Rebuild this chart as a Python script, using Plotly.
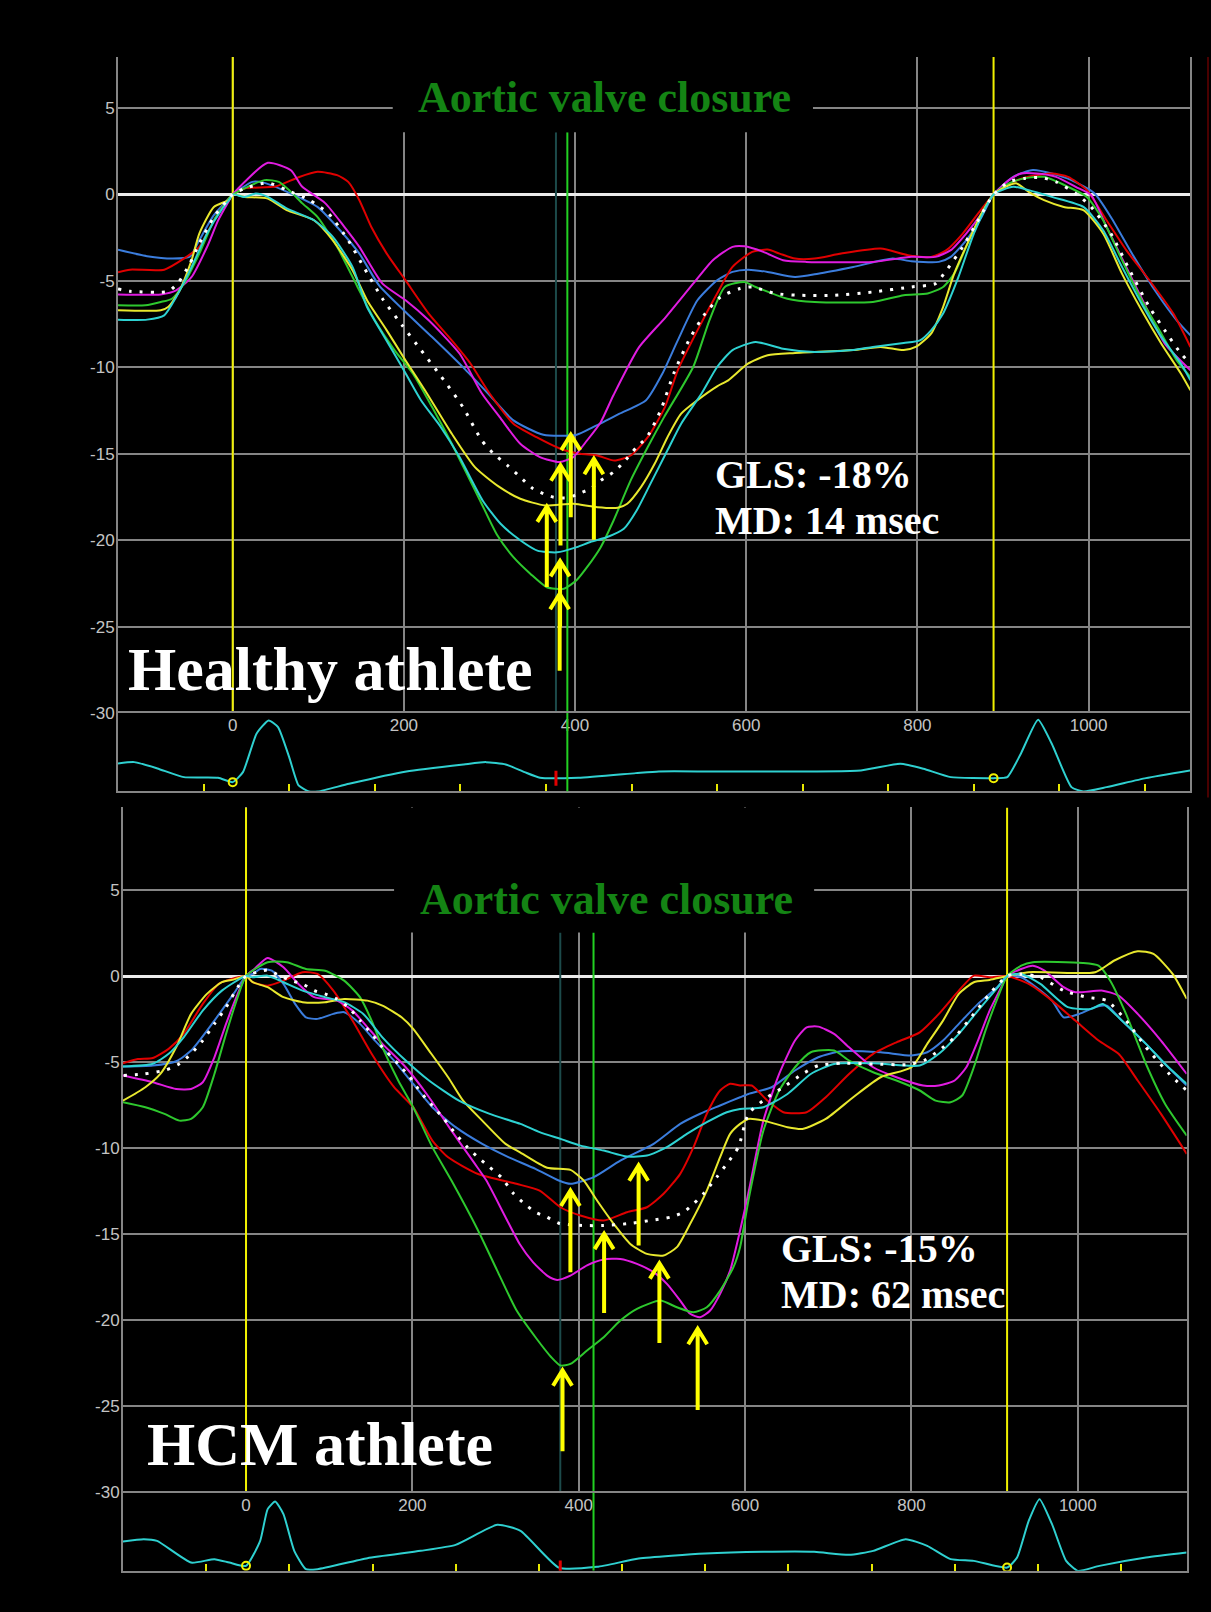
import numpy as np
import plotly.graph_objects as go

W, H = 1211, 1612
VSCALE = 1.0068   # small vertical correction of the pixel layout

# ======================= DATA : Healthy athlete (top) =======================
top_blue_t = [-134, -100, -70, -50, -39, -22, -4, 0, 23, 37, 68, 99, 122, 148, 171, 202, 233, 269, 300, 328, 363, 402, 421, 452, 483, 502, 520, 543, 566, 584, 602, 625, 657, 684, 725, 771, 793, 825, 839, 857, 875, 889, 912, 935, 957, 980, 1007, 1026, 1053, 1080, 1103, 1119]
top_blue_v = [-3.2, -3.57, -3.71, -3.6, -2.64, -1.2, -0.2, 0, 0.73, 0.67, 0.05, -0.72, -1.88, -3.42, -5.26, -6.8, -8.25, -9.99, -11.6, -13.07, -13.9, -13.9, -13.46, -12.68, -11.9, -10.37, -8.44, -6.12, -4.96, -4.48, -4.35, -4.48, -4.77, -4.58, -4.19, -3.71, -3.86, -3.9, -3.61, -2.65, -1.3, 0, 1.02, 1.41, 1.21, 0.83, 0.06, -1.3, -3.61, -5.73, -7.28, -8.15]

top_red_t = [-134, -120, -80, -57, -39, -22, -4, 0, 14, 50, 77, 99, 122, 135, 148, 162, 180, 202, 229, 256, 278, 300, 328, 355, 383, 406, 426, 446, 465, 485, 505, 520, 543, 566, 584, 607, 625, 639, 657, 680, 711, 757, 789, 816, 834, 853, 871, 889, 912, 930, 957, 976, 998, 1021, 1044, 1071, 1099, 1119]
top_red_v = [-4.5, -4.35, -4.35, -3.71, -3.04, -1.5, -0.2, 0, 0.35, 0.46, 1.0, 1.31, 1.12, 0.73, -0.33, -1.88, -3.42, -4.97, -6.89, -8.44, -9.79, -11.5, -13.26, -14.04, -14.71, -15.0, -15.1, -15.39, -15.1, -14.04, -12.3, -10.17, -7.86, -5.73, -4.19, -3.32, -3.19, -3.42, -3.71, -3.71, -3.42, -3.13, -3.51, -3.61, -3.22, -2.26, -1.1, 0, 0.73, 1.02, 1.21, 1.02, 0.25, -1.49, -3.22, -4.96, -6.89, -8.82]

top_magenta_t = [-134, -84, -66, -48, -30, -17, -4, 0, 41, 68, 81, 108, 130, 148, 175, 202, 229, 265, 291, 312, 336, 359, 382, 398, 414, 430, 445, 475, 506, 538, 561, 584, 598, 620, 643, 670, 748, 793, 821, 839, 857, 875, 889, 907, 921, 939, 962, 985, 1003, 1021, 1044, 1067, 1089, 1119]
top_magenta_v = [-5.78, -5.78, -5.55, -4.77, -3.04, -1.5, -0.33, 0, 1.83, 1.40, 0.46, -0.5, -1.84, -3.03, -5.16, -6.12, -7.28, -9.2, -11.5, -12.88, -14.42, -15.19, -15.48, -15.19, -14.23, -13.17, -11.6, -8.82, -7.09, -5.16, -3.8, -3.03, -3.0, -3.32, -3.8, -3.9, -3.9, -3.61, -3.61, -3.22, -2.26, -1.1, 0, 0.83, 1.21, 1.21, 1.02, 0.44, -0.04, -1.87, -4.19, -6.51, -8.63, -10.17]

top_green_t = [-134, -102, -84, -71, -57, -39, -22, -4, 0, 37, 54, 68, 81, 99, 122, 144, 166, 189, 211, 233, 256, 289, 309, 328, 348, 367, 387, 402, 414, 430, 445, 465, 485, 504, 538, 557, 575, 598, 611, 648, 680, 748, 784, 812, 830, 843, 857, 875, 889, 907, 925, 948, 976, 998, 1017, 1039, 1062, 1085, 1103, 1119]
top_green_v = [-6.41, -6.41, -6.22, -6.03, -5.16, -3.42, -1.5, -0.2, 0, 0.83, 0.73, 0.15, -0.5, -1.3, -3.03, -5.16, -7.28, -9.0, -10.4, -12.3, -14.42, -17.7, -19.7, -20.98, -21.95, -22.72, -22.81, -22.3, -21.56, -20.4, -18.86, -16.54, -14.61, -12.88, -9.98, -7.28, -5.35, -5.06, -5.35, -6.03, -6.22, -6.22, -5.83, -5.73, -5.35, -4.58, -3.03, -1.1, 0, 0.64, 0.93, 1.02, 0.44, -0.14, -1.49, -3.8, -6.12, -8.05, -9.6, -10.56]

top_yellow_t = [-134, -84, -75, -62, -48, -39, -22, -4, 0, 14, 41, 63, 95, 117, 140, 157, 180, 202, 225, 256, 283, 311, 336, 365, 398, 426, 450, 461, 477, 493, 508, 524, 543, 566, 579, 602, 625, 657, 725, 757, 784, 798, 816, 830, 843, 862, 875, 889, 903, 916, 930, 948, 971, 994, 1017, 1039, 1062, 1085, 1108, 1119]
top_yellow_v = [-6.7, -6.7, -6.5, -5.55, -3.8, -2.26, -0.72, -0.3, 0, -0.14, -0.24, -0.9, -1.49, -2.65, -4.38, -6.12, -7.86, -9.6, -11.35, -13.84, -15.77, -16.9, -17.6, -17.99, -17.89, -18.09, -18.12, -17.89, -16.93, -15.58, -14.04, -12.68, -11.9, -11.1, -10.75, -9.79, -9.3, -9.17, -9.0, -8.82, -9.0, -8.82, -8.05, -6.51, -4.58, -2.45, -1.1, 0, 0.44, 0.64, 0.15, -0.33, -0.72, -0.91, -2.26, -4.58, -6.7, -8.63, -10.37, -11.33]

top_cyan_t = [-134, -100, -80, -66, -48, -30, -12, -4, 0, 14, 27, 41, 63, 95, 117, 140, 157, 175, 198, 220, 243, 265, 292, 313, 336, 356, 379, 402, 418, 437, 457, 472, 488, 508, 524, 548, 566, 584, 611, 643, 680, 725, 748, 784, 803, 816, 830, 848, 866, 889, 912, 930, 957, 994, 1017, 1039, 1062, 1085, 1108, 1119]
top_cyan_v = [-7.24, -7.24, -6.99, -5.93, -4.19, -2.26, -0.81, -0.3, 0, -0.14, 0.05, -0.14, -0.81, -1.49, -2.45, -4.19, -6.51, -8.05, -9.99, -11.9, -13.45, -15.19, -17.7, -19.05, -20.0, -20.6, -20.7, -20.4, -20.1, -19.83, -19.34, -18.28, -16.74, -14.8, -13.26, -11.5, -9.98, -9.0, -8.53, -8.92, -9.11, -9.0, -8.82, -8.59, -8.44, -7.86, -6.89, -4.77, -2.26, 0, 0.44, 0.25, -0.14, -0.72, -2.07, -4.19, -6.32, -8.24, -9.79, -10.75]

top_avg_t = [-134, -120, -75, -63, -50, -39, -22, -4, 0, 14, 41, 63, 90, 112, 135, 153, 175, 198, 220, 247, 269, 291, 305, 321, 336, 351, 363, 375, 391, 404, 418, 430, 445, 457, 472, 484, 500, 516, 534, 552, 570, 593, 607, 634, 661, 702, 748, 793, 821, 834, 853, 871, 889, 907, 925, 944, 962, 985, 1003, 1026, 1048, 1071, 1089, 1108, 1119]
top_avg_v = [-5.47, -5.6, -5.6, -5.06, -4.0, -2.84, -1.3, -0.2, 0, 0.35, 0.67, 0.25, -0.33, -1.11, -2.65, -4.19, -6.03, -7.57, -9.0, -10.76, -12.3, -14.23, -15.0, -15.67, -16.35, -17.02, -17.31, -17.51, -17.55, -17.31, -17.02, -16.54, -16.06, -15.48, -14.61, -14.04, -12.49, -10.27, -8.34, -6.89, -5.93, -5.44, -5.35, -5.73, -5.83, -5.83, -5.64, -5.35, -5.16, -4.38, -3.03, -1.49, 0, 0.73, 0.93, 0.98, 0.73, 0.06, -0.72, -2.26, -4.38, -6.51, -7.86, -9.21, -9.79]

top_ecg_t = [-134, -115, -88, -57, -17, 0, 12, 28, 42, 53, 66, 77, 89, 100, 136, 203, 270, 296, 319, 341, 359, 404, 471, 498, 566, 734, 780, 807, 839, 889, 905, 921, 941, 957, 980, 994, 1021, 1067, 1119]
top_ecg_a = [2.8, 2.93, 2.3, 1.43, 1.37, 0.93, 1.93, 5.8, 7.1, 6.43, 3.43, 0.6, 0.0, 0.0, 0.77, 2.0, 2.7, 2.93, 2.7, 1.93, 1.37, 1.37, 1.83, 2.0, 2.0, 2.1, 2.77, 2.27, 1.43, 1.33, 1.43, 3.8, 7.17, 4.77, 0.43, 0.0, 0.43, 1.33, 2.1]

top_ed_times = [0, 889]          # end-diastole (yellow)
top_avc_teal = 377.7             # dark marker
top_avc_green = 391              # aortic valve closure (green)
top_arrow_t = [367, 383, 395, 422, 382.5, 382]
top_arrow_tip = [-18.05, -15.67, -13.9, -15.29, -21.2, -23.1]
top_arrow_tail = [-22.7, -20.3, -18.67, -19.98, -25.0, -27.55]
top_gls, top_md = "GLS: -18%", "MD: 14 msec"

# ======================= DATA : HCM athlete (bottom) =======================
bot_blue_t = [-148, -112, -84, -66, -38, -15, 0, 8, 17, 31, 45, 59, 72, 86, 105, 118, 137, 155, 178, 201, 224, 252, 284, 316, 348, 376, 390, 418, 450, 490, 522, 546, 570, 594, 604, 632, 660, 688, 716, 763, 800, 819, 838, 857, 880, 903, 915, 932, 950, 969, 983, 1002, 1021, 1035, 1053, 1082, 1105, 1131]
bot_blue_v = [-5.26, -5.2, -4.95, -4.33, -2.59, -1.04, 0, 0.12, 0.41, 0.31, -0.46, -1.62, -2.4, -2.49, -2.2, -2.1, -2.78, -3.75, -4.91, -6.27, -7.62, -8.78, -9.75, -10.53, -11.2, -11.88, -12.07, -11.68, -10.72, -9.75, -8.59, -8.0, -7.52, -7.04, -6.85, -6.46, -5.49, -4.72, -4.37, -4.43, -4.62, -4.43, -3.75, -2.78, -1.62, -0.65, 0, -0.07, -0.65, -1.43, -2.4, -2.2, -1.81, -1.72, -2.59, -3.94, -5.11, -6.36]

bot_red_t = [-148, -130, -112, -93, -75, -52, -33, -20, 0, 8, 26, 45, 68, 86, 105, 128, 151, 178, 201, 224, 243, 279, 325, 353, 378, 402, 430, 458, 482, 502, 522, 538, 554, 570, 582, 594, 608, 627, 646, 674, 697, 725, 754, 782, 810, 833, 857, 875, 894, 915, 941, 969, 997, 1025, 1049, 1072, 1100, 1131]
bot_red_v = [-5.07, -4.82, -4.76, -4.23, -3.36, -1.62, -0.46, -0.21, 0, -0.36, -0.56, -0.27, 0.22, 0.12, -0.85, -2.59, -4.52, -6.46, -7.62, -9.56, -10.53, -11.5, -12.07, -12.46, -13.43, -13.91, -14.2, -13.72, -13.43, -12.65, -11.49, -9.94, -8.0, -6.65, -6.26, -6.36, -6.36, -7.24, -7.91, -7.91, -7.04, -5.69, -4.52, -3.85, -3.27, -2.2, -0.85, 0.02, -0.07, 0, -0.46, -1.43, -2.59, -3.75, -4.52, -6.07, -8.01, -10.33]

bot_magenta_t = [-148, -112, -84, -66, -52, -38, -24, -10, 0, 10, 26, 45, 63, 82, 109, 128, 146, 164, 192, 220, 247, 275, 289, 312, 329, 345, 362, 374, 390, 410, 430, 450, 470, 490, 506, 522, 534, 546, 558, 570, 582, 594, 604, 622, 641, 660, 674, 688, 707, 725, 754, 782, 814, 833, 852, 866, 880, 894, 908, 915, 932, 946, 960, 983, 997, 1030, 1049, 1072, 1100, 1131]
bot_magenta_v = [-5.78, -6.17, -6.56, -6.56, -6.17, -4.72, -2.78, -1.04, 0, 0.41, 1.05, 0.51, -0.46, -1.23, -1.43, -2.01, -2.98, -3.94, -5.3, -7.04, -8.98, -10.9, -11.88, -14.01, -15.56, -16.62, -17.4, -17.65, -17.4, -16.81, -16.47, -16.43, -16.72, -17.2, -17.88, -18.85, -19.62, -19.82, -19.43, -18.46, -17.11, -14.78, -12.6, -8.4, -5.69, -3.75, -2.98, -2.94, -3.36, -4.14, -5.3, -5.88, -6.36, -6.36, -6.07, -5.3, -3.75, -2.01, -0.65, 0, 0.41, 0.6, 0.31, -0.65, -0.94, -0.85, -1.14, -2.2, -3.75, -5.69]

bot_green_t = [-148, -121, -98, -80, -66, -52, -38, -24, -10, 0, 26, 49, 72, 95, 118, 137, 151, 164, 183, 201, 224, 247, 279, 302, 325, 348, 367, 378, 390, 410, 430, 450, 470, 498, 518, 538, 554, 570, 586, 594, 604, 622, 641, 660, 679, 707, 725, 754, 782, 810, 829, 847, 861, 875, 889, 904, 915, 932, 946, 1006, 1025, 1039, 1058, 1082, 1105, 1131]
bot_green_v = [-7.33, -7.62, -8.01, -8.4, -8.3, -7.62, -5.69, -3.36, -1.23, 0, 0.8, 0.8, 0.41, 0.31, -0.27, -1.23, -2.59, -4.14, -6.07, -7.62, -9.94, -11.88, -14.78, -17.11, -19.4, -20.98, -22.14, -22.62, -22.53, -21.75, -20.98, -20.01, -19.33, -18.85, -19.24, -19.53, -19.24, -18.27, -16.91, -15.75, -13.04, -8.98, -6.65, -5.3, -4.43, -4.33, -4.91, -5.59, -6.07, -6.65, -7.24, -7.33, -6.94, -5.3, -3.17, -1.23, 0, 0.6, 0.8, 0.76, 0.6, -0.27, -2.2, -5.11, -7.43, -9.27]

bot_yellow_t = [-148, -121, -103, -84, -66, -47, -29, -15, 0, 8, 26, 45, 68, 95, 118, 146, 164, 187, 201, 220, 243, 261, 284, 312, 329, 362, 390, 406, 422, 442, 462, 482, 502, 518, 534, 554, 570, 582, 594, 604, 622, 651, 669, 697, 730, 763, 800, 819, 838, 857, 875, 894, 915, 941, 1021, 1044, 1072, 1091, 1114, 1131]
bot_yellow_v = [-7.24, -6.46, -5.69, -4.14, -2.2, -1.04, -0.36, -0.21, 0, -0.36, -0.65, -1.23, -1.52, -1.52, -1.33, -1.43, -1.72, -2.4, -3.07, -4.33, -5.88, -7.24, -8.4, -9.75, -10.23, -11.14, -11.26, -11.88, -13.04, -14.39, -15.56, -16.14, -16.23, -15.75, -14.39, -12.46, -10.52, -9.17, -8.59, -8.3, -8.4, -8.78, -8.88, -8.3, -7.04, -5.88, -5.3, -3.94, -2.59, -1.04, -0.36, -0.23, 0, 0.22, 0.22, 0.9, 1.44, 1.28, 0.12, -1.33]

bot_cyan_t = [-148, -112, -93, -75, -52, -29, 0, 8, 26, 45, 68, 95, 118, 141, 164, 192, 220, 256, 293, 330, 353, 378, 402, 430, 458, 482, 506, 530, 554, 578, 594, 622, 651, 679, 707, 754, 810, 833, 857, 880, 904, 915, 932, 955, 988, 1016, 1030, 1053, 1082, 1105, 1131]
bot_cyan_v = [-5.26, -5.1, -4.52, -3.56, -2.01, -0.85, 0, -0.07, 0.02, -0.36, -0.85, -1.23, -1.52, -2.2, -3.56, -4.91, -6.07, -7.24, -8.01, -8.59, -9.07, -9.46, -9.85, -10.14, -10.49, -10.43, -9.94, -9.17, -8.49, -7.91, -7.72, -7.62, -6.85, -5.69, -5.11, -5.07, -5.2, -4.52, -3.36, -2.01, -0.65, 0, 0.12, -0.46, -1.81, -1.91, -1.62, -2.59, -3.94, -5.11, -6.27]

bot_avg_t = [-147, -122, -96, -80, -66, -52, -38, -24, -10, 0, 13, 26, 40, 54, 68, 82, 95, 109, 123, 137, 151, 164, 183, 197, 210, 224, 238, 252, 266, 279, 293, 307, 321, 335, 348, 362, 376, 404, 430, 458, 486, 510, 526, 538, 550, 558, 566, 578, 592, 604, 627, 646, 669, 688, 716, 754, 796, 815, 833, 852, 875, 894, 915, 932, 955, 983, 1011, 1035, 1058, 1082, 1110, 1131]
bot_avg_v = [-5.78, -5.69, -5.45, -5.1, -4.52, -3.75, -2.78, -1.81, -0.65, 0, 0.22, 0.35, 0.03, -0.27, -0.46, -0.85, -1.04, -1.33, -1.81, -2.59, -3.36, -4.14, -5.11, -5.88, -6.75, -7.53, -8.3, -9.17, -9.94, -10.53, -11.11, -11.69, -12.6, -13.24, -13.72, -14.01, -14.36, -14.49, -14.49, -14.39, -14.2, -14.01, -13.72, -13.23, -12.65, -12.17, -11.68, -10.91, -9.94, -8.01, -7.04, -6.46, -5.69, -5.2, -5.07, -5.11, -5.14, -4.91, -4.33, -3.56, -2.2, -1.04, 0, 0.12, -0.07, -0.85, -1.23, -1.43, -2.59, -4.14, -5.69, -6.65]

bot_ecg_t = [-148, -123, -107, -66, -38, -20, 0, 17, 26, 35, 45, 58, 72, 86, 146, 210, 252, 302, 330, 376, 422, 472, 552, 622, 683, 725, 754, 793, 819, 847, 875, 915, 927, 941, 954, 969, 986, 1000, 1026, 1082, 1131]
bot_ecg_a = [2.93, 3.17, 3.0, 0.83, 1.17, 0.83, 0.5, 3.0, 6.17, 6.93, 5.67, 2.0, 0.17, 0.17, 1.27, 2.0, 2.6, 4.6, 4.0, 0.33, 0.4, 1.23, 1.73, 1.9, 1.9, 1.6, 2.0, 3.17, 2.5, 1.17, 1.0, 0.33, 1.33, 5.0, 7.17, 4.67, 1.0, 0.0, 0.5, 1.33, 1.83]

bot_ed_times = [0, 915]
bot_avc_teal = 377.8
bot_avc_green = 417.8
bot_arrow_t = [390, 430.5, 472, 497, 543, 380.5]
bot_arrow_tip = [-12.46, -14.97, -11.0, -16.68, -20.49, -22.9]
bot_arrow_tail = [-17.2, -19.58, -15.65, -21.32, -25.2, -27.6]
bot_gls, bot_md = "GLS: -15%", "MD: 62 msec"

strain_ticks = [-30, -25, -20, -15, -10, -5, 0, 5]
time_ticks = [0, 200, 400, 600, 800, 1000]
segment_names = ["blue", "red", "magenta", "green", "yellow", "cyan"]

# ======================= STYLE =======================
COLORS = {"blue": "#3b7ddd", "red": "#e00000", "magenta": "#e01ce0",
          "green": "#2ec82e", "yellow": "#e8e82e", "cyan": "#2ed2d2"}
GRID = "#858585"
TICKFONT = dict(family="Liberation Sans, Arial, sans-serif", size=17, color="#c4c4c4")
SERIF = "Liberation Serif, Times New Roman, serif"
AVC_GREEN = "#148414"

top_series = {n: (globals()[f"top_{n}_t"], globals()[f"top_{n}_v"]) for n in segment_names}
bot_series = {n: (globals()[f"bot_{n}_t"], globals()[f"bot_{n}_v"]) for n in segment_names}

panels = [
    dict(px_left=118, px_right=1190, px_top=57, px_bottom=712.7, px_ecg_bottom=791,
         t_range=[-134.0, 1118.5], v_range=[-30, 7.95], ecg_range=[0, 7.83],
         series=top_series, avg=(top_avg_t, top_avg_v), ecg=(top_ecg_t, top_ecg_a),
         ed=top_ed_times, teal=top_avc_teal, green=top_avc_green,
         box_t=(187, 678), box_v=3.6,
         arrows=(top_arrow_t, top_arrow_tip, top_arrow_tail),
         label="Healthy athlete", label_px=(126, 669), gls=(top_gls, top_md),
         gls_px=(713, 474, 520.5), avc_px=(604, 97)),
    dict(px_left=123, px_right=1186.5, px_top=807, px_bottom=1491.7, px_ecg_bottom=1570,
         t_range=[-147.9, 1130.7], v_range=[-30, 9.79], ecg_range=[0, 7.83],
         series=bot_series, avg=(bot_avg_t, bot_avg_v), ecg=(bot_ecg_t, bot_ecg_a),
         ed=bot_ed_times, teal=bot_avc_teal, green=bot_avc_green,
         box_t=(178, 683), box_v=2.53,
         arrows=(bot_arrow_t, bot_arrow_tip, bot_arrow_tail),
         label="HCM athlete", label_px=(145, 1443.4), gls=(bot_gls, bot_md),
         gls_px=(779, 1247.5, 1294.2), avc_px=(606, 899)),
]

def fx(px):
    return px / W

def fy(py):
    return 1 - py * VSCALE / H

fig = go.Figure()
layout = dict(width=W, height=H, margin=dict(l=0, r=0, t=0, b=0),
              paper_bgcolor="black", plot_bgcolor="black", showlegend=False)
shapes, annotations = [], []

for i, p in enumerate(panels):
    si, ei = 2 * i + 1, 2 * i + 2
    sx = "x" if si == 1 else f"x{si}"
    sy = "y" if si == 1 else f"y{si}"
    ex, ey = f"x{ei}", f"y{ei}"
    sxk = "xaxis" if si == 1 else f"xaxis{si}"
    syk = "yaxis" if si == 1 else f"yaxis{si}"
    exk, eyk = f"xaxis{ei}", f"yaxis{ei}"

    xdom = [fx(p["px_left"]), fx(p["px_right"])]
    layout[sxk] = dict(domain=xdom, range=p["t_range"], anchor=sy, showgrid=True,
                       gridcolor=GRID, gridwidth=2, zeroline=False, showline=False,
                       tickvals=time_ticks, ticktext=[str(t) for t in time_ticks],
                       tickfont=TICKFONT, ticks="", fixedrange=True)
    layout[syk] = dict(domain=[fy(p["px_bottom"]), fy(p["px_top"])], range=p["v_range"],
                       anchor=sx, showgrid=True, gridcolor=GRID, gridwidth=2,
                       zeroline=True, zerolinecolor="#ececec", zerolinewidth=3,
                       showline=True, mirror=True, linecolor=GRID, linewidth=2,
                       tickvals=strain_ticks, ticktext=[str(v) for v in strain_ticks],
                       tickfont=TICKFONT, ticks="", ticklabelstandoff=-2, fixedrange=True)
    layout[exk] = dict(domain=xdom, range=p["t_range"], anchor=ey, showgrid=False,
                       zeroline=False, showticklabels=False, showline=True, mirror=True,
                       linecolor=GRID, linewidth=2, ticks="inside", tick0=p["t_range"][0],
                       dtick=100, ticklen=7, tickwidth=2, tickcolor="#e8e800", fixedrange=True)
    layout[eyk] = dict(domain=[fy(p["px_ecg_bottom"]), fy(p["px_bottom"])], range=p["ecg_range"],
                       anchor=ex, showgrid=False, zeroline=False, showticklabels=False,
                       showline=True, mirror=True, linecolor=GRID, linewidth=2, ticks="",
                       fixedrange=True)

    # strain curves
    for n in segment_names:
        t, v = p["series"][n]
        fig.add_trace(go.Scatter(x=t, y=v, mode="lines", xaxis=sx, yaxis=sy, hoverinfo="skip",
                                 line=dict(color=COLORS[n], width=2, shape="spline", smoothing=0.6)))
    t, v = p["avg"]
    fig.add_trace(go.Scatter(x=t, y=v, mode="lines", xaxis=sx, yaxis=sy, hoverinfo="skip",
                             line=dict(color="white", width=3, dash="3px,8px", shape="spline",
                                       smoothing=0.6)))
    # ECG
    et, ea = p["ecg"]
    fig.add_trace(go.Scatter(x=et, y=ea, mode="lines", xaxis=ex, yaxis=ey, hoverinfo="skip",
                             line=dict(color="#2fd0d0", width=2, shape="spline", smoothing=0.5)))
    fig.add_trace(go.Scatter(x=p["ed"], y=list(np.interp(p["ed"], et, ea)), mode="markers",
                             xaxis=ex, yaxis=ey, hoverinfo="skip",
                             marker=dict(symbol="circle-open", size=8, color="#f0f000",
                                         line=dict(width=2, color="#f0f000"))))

    vr = p["v_range"]
    # end-diastole yellow lines
    for t0 in p["ed"]:
        shapes.append(dict(type="line", xref=sx, yref=sy, x0=t0, x1=t0, y0=vr[0], y1=vr[1],
                           line=dict(color="#f0f000", width=2), layer="between"))
    # dark marker & AVC green line
    shapes.append(dict(type="line", xref=sx, yref=sy, x0=p["teal"], x1=p["teal"],
                       y0=vr[0], y1=p["box_v"], line=dict(color="#1c4a4a", width=2), layer="between"))
    shapes.append(dict(type="line", xref=sx, yref=sy, x0=p["green"], x1=p["green"],
                       y0=vr[0], y1=p["box_v"], line=dict(color="#22d022", width=2), layer="between"))
    shapes.append(dict(type="line", xref=ex, yref=ey, x0=p["green"], x1=p["green"],
                       y0=p["ecg_range"][0], y1=p["ecg_range"][1],
                       line=dict(color="#22d022", width=2), layer="above"))
    # red marker on ECG
    a_teal = float(np.interp(p["teal"], et, ea))
    shapes.append(dict(type="line", xref=ex, yref=ey, x0=p["teal"], x1=p["teal"],
                       y0=a_teal - 0.8, y1=a_teal + 0.7, line=dict(color="#e00000", width=3),
                       layer="above"))
    # black box behind the AVC title (cuts grid lines)
    shapes.append(dict(type="rect", xref=sx, yref=sy, x0=p["box_t"][0], x1=p["box_t"][1],
                       y0=p["box_v"], y1=vr[1] + 1, fillcolor="black", line=dict(width=0),
                       layer="between"))
    # arrows
    px_per_ms = (p["px_right"] - p["px_left"]) / (p["t_range"][1] - p["t_range"][0])
    px_per_unit = (p["px_bottom"] - p["px_top"]) * VSCALE / (vr[1] - vr[0])
    dx, dy = 9.5 / px_per_ms, 15.5 / px_per_unit
    for t0, tip, tail in zip(*p["arrows"]):
        path = (f"M {t0},{tail} L {t0},{tip} M {t0 - dx},{tip - dy} "
                f"L {t0},{tip} L {t0 + dx},{tip - dy}")
        shapes.append(dict(type="path", xref=sx, yref=sy, path=path,
                           line=dict(color="#ffff00", width=4), layer="above"))

    # texts
    annotations.append(dict(xref="paper", yref="paper", x=fx(p["avc_px"][0]), y=fy(p["avc_px"][1]),
                            text="<b>Aortic valve closure</b>", showarrow=False,
                            xanchor="center", yanchor="middle",
                            font=dict(family=SERIF, size=44, color=AVC_GREEN)))
    annotations.append(dict(xref="paper", yref="paper", x=fx(p["label_px"][0]), y=fy(p["label_px"][1]),
                            text=f"<b>{p['label']}</b>", showarrow=False,
                            xanchor="left", yanchor="middle",
                            font=dict(family=SERIF, size=62, color="white")))
    gx, gy1, gy2 = p["gls_px"]
    for txt, gy in zip(p["gls"], (gy1, gy2)):
        annotations.append(dict(xref="paper", yref="paper", x=fx(gx), y=fy(gy),
                                text=f"<b>{txt}</b>", showarrow=False,
                                xanchor="left", yanchor="middle",
                                font=dict(family=SERIF, size=40, color="white")))

# thin dark-red border at the right edge of the upper display
shapes.append(dict(type="line", xref="paper", yref="paper", x0=fx(1208), x1=fx(1208),
                   y0=fy(797), y1=fy(57), line=dict(color="#4a0000", width=2)))

layout["shapes"] = shapes
layout["annotations"] = annotations
fig.update_layout(**layout)

page_fix = (
    "var gd=document.getElementById('{plot_id}');"
    "var de=document.documentElement, b=document.body;"
    "[de,b].forEach(function(e){e.style.margin='0px';e.style.padding='0px';"
    "e.style.height='1612px';e.style.overflow='hidden';e.style.background='black';});"
    "if(gd&&gd.parentElement){gd.parentElement.style.height='1612px';"
    "gd.parentElement.style.overflow='hidden';gd.parentElement.style.lineHeight='0';}"
    "if(gd){gd.style.display='block';gd.style.overflow='hidden';}"
)
fig.write_html("out.html", include_plotlyjs=True, config={"displayModeBar": False},
               post_script=page_fix)
